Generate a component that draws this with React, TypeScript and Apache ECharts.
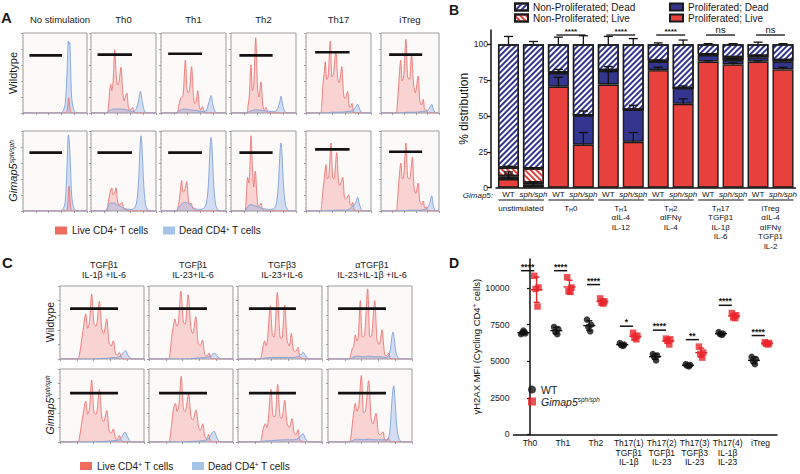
import React, { useEffect, useRef } from "react";
import * as echarts from "echarts";

const FONT = '"Liberation Sans", Arial, Helvetica, sans-serif';

// ---------------- Panel A : proliferation histograms (x: % of frame width, y: % of frame height)
const A_TITLES = ["No stimulation", "Th0", "Th1", "Th2", "Th17", "iTreg"];
const A_WT_LIVE = [
  [[0,0],[66,0],[69,3],[71.5,19],[74,3],[77,0],[100,0]],
  [[0,0],[24,0],[27,10],[29,30],[30.5,36],[32,28],[34,40],[36.5,79],[39,45],[41,35],[43,38],[46,57],[49,25],[51,15],[52,18],[55,25],[57.5,8],[60,3],[62,5],[64,7],[66,2],[70,0],[100,0]],
  [[0,0],[24,0],[27,8],[30,18],[32,20],[34,22],[37.5,66],[40,30],[42,25],[44,30],[47,58],[50,22],[52,12],[54,14],[56.5,28],[59,8],[61,4],[64,8],[66,3],[70,0],[100,0]],
  [[0,0],[24,0],[26,8],[28,20],[30.8,60],[33,28],[35,35],[38,94],[41,30],[43,20],[46,39],[49,10],[51,4],[54,7],[56,2],[60,0],[100,0]],
  [[0,0],[22,0],[24,8],[26,35],[28,50],[29.7,64],[32,42],[34,45],[37.4,90],[40,45],[42,48],[46,77],[49,42],[51,38],[55,58],[58,22],[60,18],[64,27],[66.5,8],[68,7],[70.8,12],[73,2],[76,0],[100,0]],
  [[0,0],[26,0],[28,10],[30,30],[34,66],[36.5,40],[39,45],[43,92],[46,45],[49,42],[52.6,74],[56,38],[59,25],[64,46],[67,15],[70,10],[73,17],[75.5,4],[78,4],[80,1],[83,0],[100,0]],
];
const A_WT_DEAD = [
  [[0,0],[58,0],[63,3],[66,12],[68.5,45],[70,80],[71,90],[72,86],[73,88],[74.5,55],[76,20],[79,5],[84,0],[100,0]],
  [[0,0],[24,0],[28,3],[35,5],[45,5],[55,4],[62,2],[66,2],[70,6],[73,15],[76,27],[79,14],[82,3],[86,0],[100,0]],
  [[0,0],[24,0],[28,3],[35,5],[45,4],[55,3],[62,2],[68,2],[71,6],[74,14],[77,22],[80,10],[83,2],[87,0],[100,0]],
  [[0,0],[24,0],[28,2],[38,4],[50,3],[60,2],[68,2],[72,6],[75,14],[77,21],[80,8],[83,2],[86,0],[100,0]],
  [[0,0],[30,0],[40,1],[55,1],[65,2],[72,3],[76,7],[79.5,11],[82,6],[85,1],[88,0],[100,0]],
  [[0,0],[30,0],[45,1],[60,1],[72,2],[80,3],[84,7],[87.5,11],[90,5],[93,1],[96,0],[100,0]],
];
const A_KO_LIVE = [
  [[0,0],[67,0],[69.5,4],[72,31],[74.5,4],[77,0],[100,0]],
  [[0,0],[23,0],[26,8],[29,22],[31.8,29],[34,20],[36,22],[38.5,29],[41,12],[44,7],[47.5,11],[50,4],[53,2],[56,1],[60,0],[100,0]],
  [[0,0],[23,0],[27,8],[29,20],[31.8,38],[34,24],[36,25],[39.5,37],[42,15],[44,8],[46.2,10],[49,3],[52,1],[56,0],[100,0]],
  [[0,0],[21,0],[23,10],[25.6,42],[27.5,35],[29,55],[30.8,94],[33,55],[35,30],[37.4,50],[40,18],[42,6],[44,7],[46.2,10],[48,3],[52,0],[100,0]],
  [[0,0],[22,0],[24,8],[26,25],[28,40],[30.8,58],[33,40],[35,42],[38.5,85],[41,42],[43,40],[47.2,73],[50,38],[52,32],[56.4,42],[59,18],[61,15],[65.6,20],[68,8],[69.5,7],[71.8,11],[74,2],[77,0],[100,0]],
  [[0,0],[26,0],[28,10],[30,30],[34.3,60],[37,40],[39,42],[43,85],[46,42],[49,40],[54,67],[57,30],[60,22],[64,35],[67,12],[70,8],[73,12.5],[75.5,4],[78,5],[80,1],[83,0],[100,0]],
];
const A_KO_DEAD = [
  [[0,0],[58,0],[63,3],[66,12],[68.5,50],[70,85],[71,95],[72.5,85],[74.5,50],[76,20],[79,5],[84,0],[100,0]],
  [[0,0],[22,0],[26,5],[30,10],[35,10],[40,8],[45,6],[52,3],[60,2],[66,3],[70,10],[73,35],[75.5,80],[77,94],[78.5,80],[81,35],[84,8],[88,1],[92,0],[100,0]],
  [[0,0],[23,0],[27,4],[32,9],[38,11],[43,9],[50,4],[58,2],[65,3],[70,10],[73,35],[75.5,80],[77,92],[78.5,80],[81,35],[84,8],[88,1],[92,0],[100,0]],
  [[0,0],[21,0],[25,5],[30,8],[35,7],[42,5],[50,3],[58,2],[66,3],[70,10],[73,35],[75.5,75],[77,85],[78.5,70],[81,30],[84,7],[88,1],[92,0],[100,0]],
  [[0,0],[30,0],[45,1],[60,1],[68,3],[72,7],[75,8],[77,12],[79.5,17],[82,9],[85,2],[88,0],[100,0]],
  [[0,0],[30,0],[50,1],[65,1],[75,2],[80,4],[84,10],[87.4,19],[90,8],[93,1],[96,0],[100,0]],
];
// gate: [x start, x end, level]
const A_WT_GATE = [[10,61,72],[10,63,73],[11,63,74],[13,64,72],[14,67,76],[14,71,73]];
const A_KO_GATE = [[10,61,73],[10,63,73],[11,63,73],[13,64,73],[14,67,77],[14,71,74]];

// ---------------- Panel C
const C_TITLES = [
  ["TGFβ1", "IL-1β +IL-6"],
  ["TGFβ1", "IL-23+IL-6"],
  ["TGFβ3", "IL-23+IL-6"],
  ["αTGFβ1", "IL-23+IL-1β +IL-6"],
];
const C_WT_LIVE = [
  [[0,0],[21,0],[23,5],[25,20],[27.5,40],[30.6,62],[33,42],[35,50],[37.7,89],[40.5,48],[43,45],[46.8,79],[50,40],[52,35],[55.6,55],[58.5,22],[61,18],[63.5,25],[66,8],[68,5],[70.6,9],[73,2],[76,0],[100,0]],
  [[0,0],[23,0],[25,8],[27.5,35],[29,45],[30.8,55],[33,45],[35,50],[37.9,93],[41,50],[43,48],[46.6,88],[50,42],[52,35],[55.7,58],[58.5,22],[61,18],[63.6,26],[66.5,6],[69,4],[71.5,8],[74,1],[77,0],[100,0]],
  [[0,0],[26,0],[28,5],[30,18],[31.7,25],[33.5,18],[35,25],[38.5,73],[41,32],[43,30],[46.8,91],[50,30],[52,28],[55.6,74],[58.5,25],[61,18],[63.5,35],[66,12],[68.5,10],[71.4,16],[73.5,3],[76,1],[79,0],[100,0]],
  [[0,0],[25,0],[27,5],[29,15],[30.5,17],[32.5,33],[34.5,25],[36,30],[38.5,80],[41,30],[43.5,32],[47.2,96],[50,30],[52,32],[55.6,80],[58.5,25],[61,20],[64.3,40],[67,10],[69,4],[72.2,8],[74,1],[77,0],[100,0]],
];
const C_WT_DEAD = [
  [[0,0],[40,0],[55,1],[66,2],[70,3],[73,5],[75.5,9],[78,11.5],[81,5],[84,1],[87,0],[100,0]],
  [[0,0],[40,0],[55,1],[66,2],[70,3],[73,4],[76,7],[78.3,8],[81,4],[84,1],[87,0],[100,0]],
  [[0,0],[26,0],[30,1],[40,2],[55,2],[65,2],[70,3],[73,4],[75.5,7],[77.8,9],[80.5,4],[83,1],[86,0],[100,0]],
  [[0,0],[25,0],[29,2],[35,4],[42,3],[48,4],[55,3],[62,3],[68,2],[72,4],[74.5,15],[76,30],[77.4,37],[79,28],[81,8],[84,1],[88,0],[100,0]],
];
const C_KO_LIVE = [
  [[0,0],[21,0],[23,5],[25,20],[27.5,38],[30.6,56],[33,38],[35,45],[37.7,85],[40.5,40],[43,38],[46.8,72],[50,32],[52,28],[55.6,43],[58.5,16],[61,12],[63.5,18],[66,5],[68,4],[70.6,9],[73,2],[76,0],[100,0]],
  [[0,0],[23,0],[25,6],[27.5,30],[29,45],[31.5,53],[33.5,42],[35.5,50],[38.3,90],[41,45],[43,42],[47,66],[50,35],[52,30],[56,44],[59,20],[61,16],[64,25],[66.5,7],[69,5],[71,10.5],[73,2],[76,0],[100,0]],
  [[0,0],[26,0],[28,5],[30,18],[32.5,25],[34.5,20],[36,30],[39.3,72],[42,35],[44,35],[47.2,79],[50,35],[52,32],[55.6,57],[58.5,25],[61,20],[64.3,32],[67,12],[69,10],[71.4,17],[73.5,3],[76,1],[79,0],[100,0]],
  [[0,0],[25,0],[27,5],[29,25],[30.5,40],[32.5,53],[34.5,42],[36.5,48],[39.7,91],[42.5,40],[44.5,42],[48.4,84],[51.5,30],[53.5,25],[57.1,39.5],[60,12],[62,10],[65.5,14],[67.5,3],[70,2],[72,5],[74,1],[77,0],[100,0]],
];
const C_KO_DEAD = [
  [[0,0],[40,0],[55,1],[65,2],[70,3],[73,6],[75.5,11],[77.5,13.6],[80.5,7],[83.5,1],[87,0],[100,0]],
  [[0,0],[40,0],[55,1],[65,2],[70,4],[73,8],[75.5,13],[77.5,15],[80.5,7],[83.5,1],[87,0],[100,0]],
  [[0,0],[26,0],[30,1],[40,2],[55,3],[65,3],[70,4],[73,6],[75.5,10],[77.4,11.4],[80,5],[83,1],[86,0],[100,0]],
  [[0,0],[25,0],[29,2],[35,4],[42,3],[48,4],[55,3],[62,3],[68,3],[72,6],[74,20],[76,55],[78.2,77],[80,55],[82,20],[85,3],[89,0],[100,0]],
];
const C_WT_GATE = [[12,69,69],[12,69,69],[13,69,69],[12,69,69]];
const C_KO_GATE = [[12,69,67],[12,69,67],[13,69,67],[12,69,67]];

// ---------------- Panel B : % distribution (stacked)
const B_GROUPS = [["unstimulated"], ["TH0"], ["TH1", "αIL-4", "IL-12"], ["TH2", "αIFNγ", "IL-4"], ["TH17", "TGFβ1", "IL-1β", "IL-6"], ["iTreg", "αIL-4", "αIFNγ", "TGFβ1", "IL-2"]];
const B_GENO = ["WT", "sph/sph"];
const B_PROLIF_LIVE = [6, 2, 70.5, 30, 72, 32, 82, 58.5, 88, 86, 88, 82.5];
const B_PROLIF_DEAD = [2, 1.5, 9.5, 20.5, 9.5, 22.5, 6, 11, 4.5, 3, 3, 5.5];
const B_NONPROLIF_LIVE = [6, 10, 0.5, 0, 0.5, 0, 0.5, 0, 0.5, 2, 1, 1];
const B_NONPROLIF_DEAD = [86, 86.5, 19.5, 49.5, 18, 45.5, 11.5, 30.5, 7, 9, 8, 11];
const B_PL_SD = [5, 1.5, 6.5, 8.5, 9, 6.5, 2, 3.5, 0.5, 1, 0.5, 1.5];
const B_PD_SD = [1.5, 0.5, 2.5, 3, 3, 3, 1, 1.5, 1, 1, 1.5, 1];
const B_NPL_SD = [1, 0.5, 0, 0, 0, 0, 0, 0, 0, 0, 0, 0];
const B_NPD_SD = [5.5, 2, 5, 6, 5.5, 4, 1, 3, 0.5, 0.5, 1.5, 0.5];
const B_SIG = ["", "****", "****", "****", "ns", "ns"];
const B_SIG_LEVEL = 106.5;
const B_YTICKS = [0, 25, 50, 75, 100];

// ---------------- Panel D : γH2AX MFI
const D_CATS = ["Th0", "Th1", "Th2", "Th17(1)", "Th17(2)", "Th17(3)", "Th17(4)", "iTreg"];
const D_SUB = [[], [], [], ["TGFβ1", "IL-1β"], ["TGFβ1", "IL-23"], ["TGFβ3", "IL-23"], ["IL-1β", "IL-23"], []];
const D_WT = [
  [6850, 6900, 6950, 7000, 7100],
  [7350, 7200, 7000, 6850],
  [7850, 7500, 7350, 7050],
  [6250, 6150, 6100, 6050],
  [5500, 5400, 5300, 5050],
  [4800, 4750, 4700, 4650],
  [7000, 6900, 6850, 6800],
  [5300, 5150, 5000, 4800],
];
const D_KO = [
  [10850, 10050, 9950, 8750],
  [10750, 10050, 9800, 9750],
  [9300, 9100, 9000, 8950],
  [6950, 6750, 6600, 6500],
  [6550, 6500, 6400, 6150],
  [6000, 5600, 5500, 5250],
  [8300, 8150, 8000, 7950],
  [6300, 6250, 6200, 6150],
];
const D_SIG = ["****", "****", "****", "*", "****", "**", "****", "****"];
const D_SIG_LEVEL = [11200, 11200, 10250, 7400, 7130, 6480, 8830, 6760];
const D_YTICKS = [0, 2500, 5000, 7500, 10000];

// ---------------- layout (pixels)
const A_LEFT = [23, 91, 161, 231, 306, 381];
const A_WIDTH = [64, 65, 65, 65, 65, 58];
const A_TOP = [33, 131];
const A_H = 80;
const C_LEFT = [60, 149, 238, 328];
const C_W = 84;
const C_TOP = [286, 369];
const C_H = 73;

const RED = "#e8403d";
const NAVY = "#33358f";

function mean(a: number[]) { return a.reduce((s, v) => s + v, 0) / a.length; }
function sd(a: number[]) { const m = mean(a); return Math.sqrt(a.reduce((s, v) => s + (v - m) * (v - m), 0) / (a.length - 1)); }

function buildOption() {
  const grid: any[] = [];
  const xAxis: any[] = [];
  const yAxis: any[] = [];
  const series: any[] = [];
  const graphic: any[] = [];

  const txt = (x: number, y: number, text: string, o: any = {}) => {
    graphic.push({
      type: "text", x, y, rotation: o.rotation || 0, silent: true,
      style: {
        text, fill: o.fill || "#1a1a1a", fontSize: o.fontSize || 10, fontFamily: FONT,
        fontWeight: o.fontWeight || "normal", fontStyle: o.fontStyle || "normal",
        align: o.align || "center", verticalAlign: o.verticalAlign || "middle",
        lineHeight: o.lineHeight, rich: o.rich,
      },
    });
  };

  const addHist = (left: number, top: number, width: number, height: number, live: number[][], dead: number[][], gate: number[]) => {
    const gi = grid.length;
    grid.push({ left, top, width, height, show: true, backgroundColor: "#fcf9f9", borderColor: "#9c9c9c", borderWidth: 1 });
    const ax = {
      gridIndex: gi, type: "value", min: 0, max: 100, interval: 20,
      axisLine: { show: false }, splitLine: { show: false }, axisLabel: { show: false },
      axisTick: { show: true, length: 2, lineStyle: { color: "#8a8a8a", width: 0.8 } },
      minorTick: { show: true, splitNumber: 4, length: 1, lineStyle: { color: "#b0b0b0", width: 0.6 } },
    };
    xAxis.push({ ...ax });
    yAxis.push({ ...ax });
    series.push({
      type: "line", xAxisIndex: gi, yAxisIndex: gi, data: live, smooth: 0.3, symbol: "none", silent: true,
      lineStyle: { color: "#ee7474", width: 0.9 }, areaStyle: { color: "rgba(240,110,110,0.40)" },
    });
    series.push({
      type: "line", xAxisIndex: gi, yAxisIndex: gi, data: dead, smooth: 0.3, symbol: "none", silent: true,
      lineStyle: { color: "#7fa3da", width: 0.9 }, areaStyle: { color: "rgba(120,160,225,0.45)" },
    });
    series.push({
      type: "line", xAxisIndex: gi, yAxisIndex: gi, data: [[gate[0], gate[2]], [gate[1], gate[2]]], symbol: "none", silent: true,
      lineStyle: { color: "#111", width: 2.6 },
    });
  };

  // Panel A
  for (let r = 0; r < 2; r++) {
    for (let c = 0; c < 6; c++) {
      addHist(A_LEFT[c], A_TOP[r], A_WIDTH[c], A_H,
        r === 0 ? A_WT_LIVE[c] : A_KO_LIVE[c],
        r === 0 ? A_WT_DEAD[c] : A_KO_DEAD[c],
        r === 0 ? A_WT_GATE[c] : A_KO_GATE[c]);
    }
  }
  // Panel C
  for (let r = 0; r < 2; r++) {
    for (let c = 0; c < 4; c++) {
      addHist(C_LEFT[c], C_TOP[r], C_W, C_H,
        r === 0 ? C_WT_LIVE[c] : C_KO_LIVE[c],
        r === 0 ? C_WT_DEAD[c] : C_KO_DEAD[c],
        r === 0 ? C_WT_GATE[c] : C_KO_GATE[c]);
    }
  }

  // ---------- Panel B
  const bG = grid.length;
  grid.push({ left: 496, top: 30, width: 300, height: 157.7 });
  const barCats: string[] = [];
  B_GROUPS.forEach((g, gi) => B_GENO.forEach((ge) => barCats.push(gi + "|" + ge)));
  const bX = xAxis.length;
  xAxis.push({
    gridIndex: bG, type: "category", data: barCats, position: "bottom",
    axisLine: { lineStyle: { color: "#111", width: 1.5 } }, axisTick: { show: false },
    axisLabel: {
      interval: 0, margin: 3, fontSize: 8, color: "#111", fontFamily: FONT,
      formatter: (v: string) => { const g = v.split("|")[1]; return g === "WT" ? g : "{i|" + g + "}"; },
      rich: { i: { fontStyle: "italic", fontSize: 8, fontFamily: FONT } },
    },
  });
  xAxis.push({
    gridIndex: bG, type: "category", data: B_GROUPS.map((g) => g.join(" ")), position: "bottom", offset: 13,
    axisLine: { show: false }, axisTick: { show: false },
    axisLabel: {
      interval: 0, margin: 3, fontSize: 8, lineHeight: 9.5, color: "#111", fontFamily: FONT,
      formatter: (v: string, idx: number) => B_GROUPS[idx].map((l) => l.startsWith("TH") ? "T{s|H}" + l.slice(2) : l).join("\n"),
      rich: { s: { fontSize: 5.5, lineHeight: 5, verticalAlign: "bottom", fontFamily: FONT, color: "#111" } },
    },
  });
  const bY = yAxis.length;
  yAxis.push({
    gridIndex: bG, type: "value", min: 0, max: 110, offset: 5,
    axisLine: { show: true, lineStyle: { color: "#111", width: 1.5 } },
    axisTick: { show: true, length: 4, customValues: B_YTICKS, lineStyle: { color: "#111", width: 1.2 } },
    axisLabel: { customValues: B_YTICKS, fontSize: 8.5, margin: 3, color: "#222", fontFamily: FONT },
    splitLine: { show: false },
    name: "% distribution", nameLocation: "middle", nameGap: 15,
    nameTextStyle: { fontSize: 12, color: "#111", fontFamily: FONT },
  });
  const hatch = (color: string, rot: number) => ({
    symbol: "rect", symbolSize: 1, color, dashArrayX: [1, 0], dashArrayY: [1.6, 2], rotation: rot,
  });
  const barBase = { type: "bar", xAxisIndex: bX, yAxisIndex: bY, stack: "dist", barWidth: 21 };
  const border = { borderColor: "#1a1a1a", borderWidth: 1.4 };
  series.push({ ...barBase, name: "Proliferated; Live", data: B_PROLIF_LIVE, itemStyle: { color: RED, ...border } });
  series.push({ ...barBase, name: "Proliferated; Dead", data: B_PROLIF_DEAD, itemStyle: { color: NAVY, ...border } });
  series.push({ ...barBase, name: "Non-Proliferated; Live", data: B_NONPROLIF_LIVE, itemStyle: { color: "#ffffff", ...border, decal: hatch(RED, Math.PI / 4) } });
  series.push({ ...barBase, name: "Non-Proliferated; Dead", data: B_NONPROLIF_DEAD, itemStyle: { color: "#ffffff", ...border, decal: hatch(NAVY, -Math.PI / 4) } });

  const bErr: number[][] = [];
  for (let i = 0; i < barCats.length; i++) {
    const s1 = B_PROLIF_LIVE[i];
    const s2 = s1 + B_PROLIF_DEAD[i];
    const s3 = s2 + B_NONPROLIF_LIVE[i];
    const s4 = s3 + B_NONPROLIF_DEAD[i];
    bErr.push([i, s1, s1 + B_PL_SD[i]]);
    bErr.push([i, s2, s2 + B_PD_SD[i]]);
    if (B_NPL_SD[i] > 0) bErr.push([i, s3, s3 + B_NPL_SD[i]]);
    bErr.push([i, s4, s4 + B_NPD_SD[i]]);
  }
  series.push({
    type: "custom", xAxisIndex: bX, yAxisIndex: bY, data: bErr, silent: true, z: 5,
    encode: { x: 0, y: [1, 2] },
    renderItem: (p: any, api: any) => {
      const a = api.coord([api.value(0), api.value(1)]);
      const b = api.coord([api.value(0), api.value(2)]);
      const st = { stroke: "#111", lineWidth: 1.3 };
      return {
        type: "group", children: [
          { type: "line", shape: { x1: a[0], y1: a[1], x2: b[0], y2: b[1] }, style: st },
          { type: "line", shape: { x1: b[0] - 4.5, y1: b[1], x2: b[0] + 4.5, y2: b[1] }, style: st },
        ],
      };
    },
  });
  // group underline + significance brackets
  const bPairs = B_GROUPS.map((g, gi) => [gi * 2, gi * 2 + 1, B_SIG_LEVEL]);
  series.push({
    type: "custom", xAxisIndex: bX, yAxisIndex: bY, data: bPairs, silent: true, clip: false,
    encode: { x: [0, 1], y: 2 },
    renderItem: (p: any, api: any) => {
      const i = p.dataIndex;
      const a0 = api.coord([api.value(0), 0]);
      const b0 = api.coord([api.value(1), 0]);
      const children: any[] = [
        { type: "line", shape: { x1: a0[0] - 10, y1: a0[1] + 12.3, x2: b0[0] + 10.5, y2: a0[1] + 12.3 }, style: { stroke: "#111", lineWidth: 1.1 } },
      ];
      if (B_SIG[i]) {
        const a = api.coord([api.value(0), api.value(2)]);
        const b = api.coord([api.value(1), api.value(2)]);
        const ns = B_SIG[i] === "ns";
        children.push({ type: "line", shape: { x1: a[0] - 2, y1: a[1], x2: b[0] + 2, y2: b[1] }, style: { stroke: "#111", lineWidth: 1.3 } });
        children.push({
          type: "text", x: (a[0] + b[0]) / 2, y: a[1] - (ns ? 5.5 : 3.2),
          style: { text: B_SIG[i], fontSize: ns ? 9.5 : 8, fontFamily: FONT, fill: "#111", align: "center", verticalAlign: "middle", fontWeight: ns ? "normal" : "bold" },
        });
      }
      return { type: "group", children };
    },
  });

  // ---------- Panel D
  const dG = grid.length;
  grid.push({ left: 513.5, top: 259, width: 263.5, height: 175.3 });
  xAxis.push({
    gridIndex: dG, type: "category", data: D_CATS,
    axisLine: { lineStyle: { color: "#111", width: 1.5 } },
    axisTick: { alignWithLabel: true, length: 3, lineStyle: { color: "#111", width: 1.2 } },
    axisLabel: {
      interval: 0, margin: 4.5, fontSize: 8.5, lineHeight: 9.3, color: "#111", fontFamily: FONT,
      formatter: (v: string, idx: number) => [v, ...D_SUB[idx]].join("\n"),
    },
  });
  const dXv = xAxis.length;
  xAxis.push({ gridIndex: dG, type: "value", min: -0.5, max: D_CATS.length - 0.5, show: false });
  const dY = yAxis.length;
  yAxis.push({
    gridIndex: dG, type: "value", min: 0, max: 12000,
    axisLine: { show: true, lineStyle: { color: "#111", width: 1.5 } },
    axisTick: { show: true, length: 3, customValues: D_YTICKS, lineStyle: { color: "#111", width: 1.2 } },
    axisLabel: { customValues: D_YTICKS, fontSize: 8.7, margin: 4, color: "#222", fontFamily: FONT, formatter: (v: number) => String(v) },
    splitLine: { show: false },
    name: "γH2AX MFI (Cycling CD4{sup|+} cells)", nameLocation: "middle", nameGap: 30,
    nameTextStyle: { fontSize: 9.5, color: "#111", fontFamily: FONT, rich: { sup: { fontSize: 6.5, verticalAlign: "top", lineHeight: 8, fontFamily: FONT, color: "#111" } } },
  });
  const JIT = [-0.07, 0.06, -0.03, 0.03, 0.0];
  const wtPts: number[][] = [];
  const koPts: number[][] = [];
  D_WT.forEach((vals, i) => vals.forEach((v, k) => wtPts.push([i - 0.2 + JIT[k], v])));
  D_KO.forEach((vals, i) => vals.forEach((v, k) => koPts.push([i + 0.2 + JIT[k], v])));
  series.push({ type: "scatter", name: "WT", xAxisIndex: dXv, yAxisIndex: dY, data: wtPts, symbol: "circle", symbolSize: 6.5, itemStyle: { color: "#111" }, z: 4 });
  series.push({ type: "scatter", name: "Gimap5", xAxisIndex: dXv, yAxisIndex: dY, data: koPts, symbol: "rect", symbolSize: 6.5, itemStyle: { color: "#e8262c" }, z: 4 });
  const dErr: any[] = [];
  D_WT.forEach((v, i) => dErr.push([i - 0.2, mean(v), sd(v), 0]));
  D_KO.forEach((v, i) => dErr.push([i + 0.2, mean(v), sd(v), 1]));
  series.push({
    type: "custom", xAxisIndex: dXv, yAxisIndex: dY, data: dErr, silent: true, z: 5,
    encode: { x: 0, y: 1 },
    renderItem: (p: any, api: any) => {
      const x = api.value(0), m = api.value(1), s = api.value(2);
      const col = api.value(3) ? "#e8262c" : "#111";
      const c = api.coord([x, m]);
      const lo = api.coord([x, m - s]);
      const hi = api.coord([x, m + s]);
      const st = { stroke: col, lineWidth: 1.4 };
      return {
        type: "group", children: [
          { type: "line", shape: { x1: lo[0], y1: lo[1], x2: hi[0], y2: hi[1] }, style: st },
          { type: "line", shape: { x1: hi[0] - 3, y1: hi[1], x2: hi[0] + 3, y2: hi[1] }, style: st },
          { type: "line", shape: { x1: lo[0] - 3, y1: lo[1], x2: lo[0] + 3, y2: lo[1] }, style: st },
          { type: "line", shape: { x1: c[0] - 6, y1: c[1], x2: c[0] + 6, y2: c[1] }, style: st },
        ],
      };
    },
  });
  series.push({
    type: "custom", xAxisIndex: dXv, yAxisIndex: dY, data: D_SIG_LEVEL.map((y, i) => [i, y]), silent: true, clip: false,
    encode: { x: 0, y: 1 },
    renderItem: (p: any, api: any) => {
      const i = api.value(0), y = api.value(1);
      const a = api.coord([i - 0.27, y]);
      const b = api.coord([i + 0.13, y]);
      return {
        type: "group", children: [
          { type: "line", shape: { x1: a[0], y1: a[1], x2: b[0], y2: b[1] }, style: { stroke: "#111", lineWidth: 1.5 } },
          { type: "text", x: (a[0] + b[0]) / 2, y: a[1] - 4, style: { text: D_SIG[p.dataIndex], fontSize: 8.5, fontWeight: "bold", fontFamily: FONT, fill: "#111", align: "center", verticalAlign: "middle" } },
        ],
      };
    },
  });

  // ---------- texts (titles, labels, legends)
  txt(1, 17, "A", { fontSize: 15, fontWeight: "bold", align: "left" });
  txt(449, 10, "B", { fontSize: 14, fontWeight: "bold", align: "left" });
  txt(2, 262, "C", { fontSize: 15, fontWeight: "bold", align: "left" });
  txt(449, 263, "D", { fontSize: 14, fontWeight: "bold", align: "left" });

  A_TITLES.forEach((t, c) => txt(A_LEFT[c] + A_WIDTH[c] / 2 + (c === 0 ? 5 : 0), 19, t, { fontSize: 9.5 }));
  C_TITLES.forEach((t, c) => txt(C_LEFT[c] + C_W / 2 + 2, 269.8, t.join("\n"), { fontSize: 9, lineHeight: 9.6 }));

  const koRich = (f: number) => ({
    i: { fontStyle: "italic", fontSize: f, fontFamily: FONT, fill: "#1a1a1a", color: "#1a1a1a" },
    s: { fontStyle: "italic", fontSize: f * 0.6, fontFamily: FONT, verticalAlign: "top", lineHeight: f * 0.7, fill: "#1a1a1a", color: "#1a1a1a" },
  });
  txt(13, 73, "Wildtype", { fontSize: 11, rotation: Math.PI / 2 });
  txt(13, 171, "{i|Gimap5}{s|sph/sph}", { fontSize: 11, rotation: Math.PI / 2, rich: koRich(11) });
  txt(50, 322, "Wildtype", { fontSize: 10.5, rotation: Math.PI / 2 });
  txt(50, 405, "{i|Gimap5}{s|sph/sph}", { fontSize: 10.5, rotation: Math.PI / 2, rich: koRich(10.5) });

  const cellRich = { sup: { fontSize: 6.5, verticalAlign: "top", lineHeight: 7, fontFamily: FONT } };
  const legendRow = (x: number, y: number, gap: number) => {
    graphic.push({ type: "rect", x, y: y - 4, shape: { width: 12, height: 8 }, style: { fill: "#ef6b5f" }, silent: true });
    txt(x + 17, y, "Live CD4{sup|+} T cells", { fontSize: 10, align: "left", rich: cellRich });
    graphic.push({ type: "rect", x: x + gap, y: y - 4, shape: { width: 12, height: 8 }, style: { fill: "#a4c5e9" }, silent: true });
    txt(x + gap + 16, y, "Dead CD4{sup|+} T cells", { fontSize: 10, align: "left", rich: cellRich });
  };
  legendRow(55, 230.5, 108);
  legendRow(80, 466, 112);

  txt(493, 195.8, "Gimap5:", { fontSize: 8, fontStyle: "italic", align: "right" });

  const legendCommon = {
    orient: "vertical", itemWidth: 13, itemHeight: 7, itemGap: 1, icon: "rect", selectedMode: false, padding: 0,
    textStyle: { fontSize: 10, color: "#1a1a1a", fontFamily: FONT, lineHeight: 9.5 },
  };
  const legend = [
    { ...legendCommon, left: 514, top: 2, data: ["Non-Proliferated; Dead", "Non-Proliferated; Live"] },
    { ...legendCommon, left: 669, top: 2, data: ["Proliferated; Dead", "Proliferated; Live"] },
    {
      orient: "vertical", left: 528, top: 384, itemWidth: 8, itemHeight: 8, itemGap: 1, selectedMode: false, padding: 0,
      data: ["WT", "Gimap5"],
      formatter: (n: string) => (n === "WT" ? "WT" : "{i|Gimap5}{s|sph/sph}"),
      textStyle: { fontSize: 10.5, color: "#1a1a1a", fontFamily: FONT, rich: koRich(10.5) },
    },
  ];

  return {
    animation: false,
    backgroundColor: "#ffffff",
    textStyle: { fontFamily: FONT },
    grid, xAxis, yAxis, series, graphic, legend,
  };
}

export default function App() {
  const ref = useRef<HTMLDivElement>(null);
  useEffect(() => {
    if (!ref.current) return;
    const chart = echarts.init(ref.current, undefined, { renderer: "svg" });
    chart.setOption(buildOption() as any);
    return () => chart.dispose();
  }, []);
  return <div ref={ref} style={{ position: "absolute", left: 0, top: 0, width: 800, height: 474, background: "#fff" }} />;
}
